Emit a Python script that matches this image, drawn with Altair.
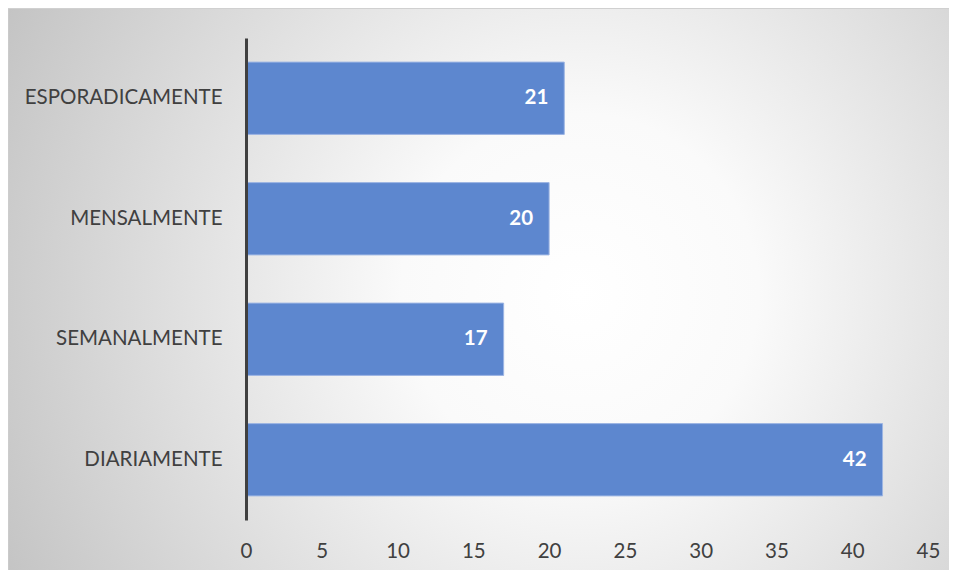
import altair as alt
import pandas as pd

categories = ["ESPORADICAMENTE", "MENSALMENTE", "SEMANALMENTE", "DIARIAMENTE"]
values = [21, 20, 17, 42]
x_ticks = [0, 5, 10, 15, 20, 25, 30, 35, 40, 45]

df = pd.DataFrame({"cat": categories, "val": values})
bg_df = pd.DataFrame({"a": [0]})

FONT = "Lato"
FS = 20.5

grad = alt.RadialGradient(
    gradient="radial",
    stops=[
        alt.GradientStop(offset=0, color="#ffffff"),
        alt.GradientStop(offset=0.25, color="#fafafa"),
        alt.GradientStop(offset=1, color="#bbbbbb"),
    ],
    x1=0.6, y1=0.5, r1=0,
    x2=0.6, y2=0.5, r2=0.75,
)

bg = alt.Chart(bg_df).mark_rect(fill=grad, stroke="#d0d0d0", strokeWidth=1).encode(
    x=alt.value(-238), x2=alt.value(715), y=alt.value(-29.5), y2=alt.value(540)
)

yenc = alt.Y("cat:N", sort=categories, title=None,
             scale=alt.Scale(paddingInner=0.4, paddingOuter=0.2),
             axis=alt.Axis(ticks=False, domain=True, domainColor="#404040", domainWidth=3,
                           labelFont=FONT, labelFontSize=FS, labelColor="#404040",
                           labelPadding=24, labelLimit=400, grid=False, zindex=1))
xenc = alt.X("val:Q", title=None,
             scale=alt.Scale(domain=[0, 45], nice=False),
             axis=alt.Axis(values=x_ticks, ticks=False, domain=False, grid=False,
                           labelFont=FONT, labelFontSize=FS, labelColor="#404040",
                           labelPadding=21, labelFlush=False, zindex=1))

bars = alt.Chart(df).mark_bar(color="#5D87CF", stroke="#9db5e3", strokeWidth=1).encode(
    x=xenc, y=yenc
)
labels = alt.Chart(df).mark_text(align="right", dx=-16, color="white", fontWeight="bold",
                                 font=FONT, fontSize=FS).encode(
    x="val:Q", y=alt.Y("cat:N", sort=categories), text="val:Q"
)

chart = alt.layer(bg, bars, labels).properties(
    width=682, height=482,
    padding={"left": 238, "top": 30, "right": 21, "bottom": 50},
    autosize=alt.AutoSizeParams(type="none"),
    background="white",
).configure_view(stroke=None)

chart.save("out.html", embed_options={"renderer": "svg", "actions": False})
